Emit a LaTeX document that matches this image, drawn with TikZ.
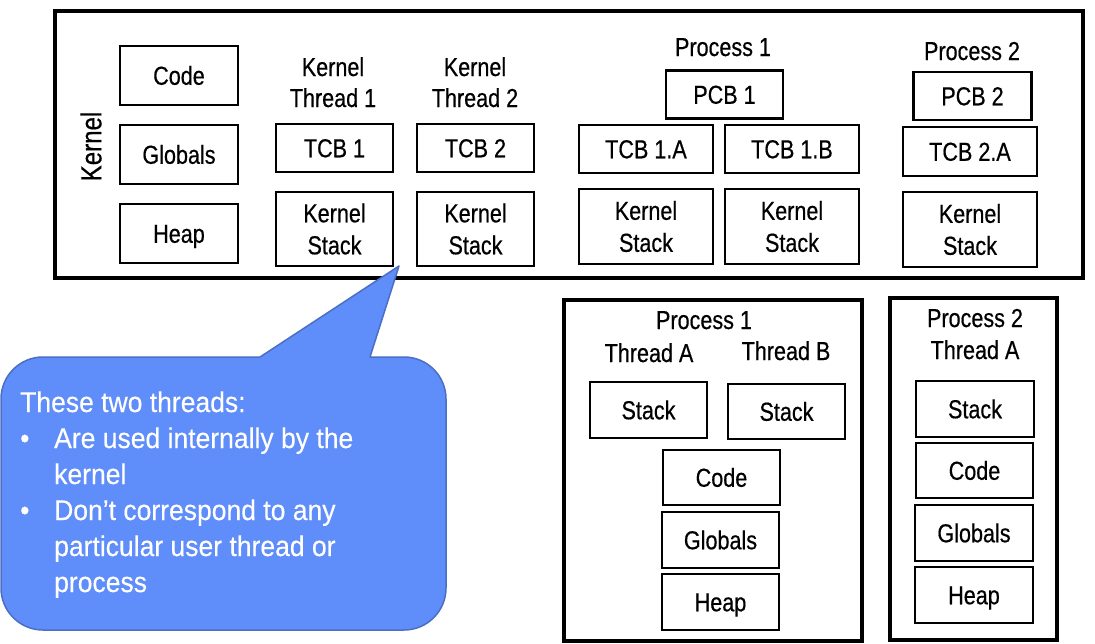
\documentclass[tikz,border=0pt]{standalone}
\usepackage{fontspec}
\newfontfamily\boxfont{Liberation Sans}[FakeStretch=0.83,FakeBold=0.5]
\newfontfamily\callfont{Liberation Sans}[FakeStretch=0.93,FakeBold=0.3]
\definecolor{callfill}{HTML}{5F8DF9}
\definecolor{callline}{HTML}{4A6FC4}
\begin{document}
\begin{tikzpicture}[x=1pt,y=-1pt,
  bx/.style={draw, line width=2.2pt, inner sep=0pt, align=center,
    font=\boxfont\fontsize{26}{32}\selectfont},
  one/.style={text height=18.5pt, text depth=0pt},
  hd/.style={inner sep=0pt, anchor=base, font=\boxfont\fontsize{26}{31}\selectfont},
  frame/.style={draw, line width=3.2pt, inner sep=0pt},
  ct/.style={inner sep=0pt, anchor=base west, text=white,
    font=\callfont\fontsize{28.5}{36}\selectfont},
  callout/.style={fill=callfill, draw=callline, line width=1.5pt, line join=round},
]
\useasboundingbox (0,0) rectangle (1095,643);

% ---------- Kernel ----------
\node[frame, minimum width=1028, minimum height=267] (kernel) at (569,144.5) {};
\node[inner sep=0pt, rotate=90, font=\boxfont\fontsize{29}{30}\selectfont] (klabel) at (91,146.5) {Kernel};

\node[bx, one, minimum width=118, minimum height=59] (kcode) at (179,75.5) {Code};
\node[bx, one, minimum width=118, minimum height=59] (kglob) at (179,154.5) {Globals};
\node[bx, one, minimum width=118, minimum height=59] (kheap) at (179,233.5) {Heap};

\node[hd] (kt1a) at (333,76) {Kernel};
\node[hd] (kt1b) at (333,107) {Thread 1};
\node[bx, one, minimum width=117, minimum height=48] (tcb1) at (334.5,148) {TCB 1};
\node[bx, minimum width=117, minimum height=74] (ks1) at (334.5,229) {Kernel\\Stack};

\node[hd] (kt2a) at (475,76) {Kernel};
\node[hd] (kt2b) at (475,107) {Thread 2};
\node[bx, one, minimum width=117, minimum height=48] (tcb2) at (475.5,148) {TCB 2};
\node[bx, minimum width=117, minimum height=74] (ks2) at (475.5,229) {Kernel\\Stack};

\node[hd] (kp1) at (723,56) {Process 1};
\node[bx, one, minimum width=117, minimum height=48] (pcb1) at (724.5,94.5) {PCB 1};
\node[bx, one, minimum width=134, minimum height=48] (tcb1a) at (646,149) {TCB 1.A};
\node[bx, one, minimum width=134, minimum height=48] (tcb1b) at (792,149) {TCB 1.B};
\node[bx, minimum width=134, minimum height=75] (ks1a) at (646,226.5) {Kernel\\Stack};
\node[bx, minimum width=134, minimum height=75] (ks1b) at (792,226.5) {Kernel\\Stack};

\node[hd] (kp2) at (972,60) {Process 2};
\node[bx, one, minimum width=118, minimum height=48] (pcb2) at (972.5,96) {PCB 2};
\node[bx, one, minimum width=134, minimum height=49] (tcb2a) at (970,151.5) {TCB 2.A};
\node[bx, minimum width=134, minimum height=75] (ks2a) at (970,229.5) {Kernel\\Stack};

% ---------- Process 1 (user) ----------
\node[frame, minimum width=298, minimum height=341] (proc1) at (713,470.5) {};
\node[hd] (up1) at (704,329) {Process 1};
\node[hd] (up1a) at (649,362) {Thread A};
\node[hd] (up1b) at (786,360) {Thread B};
\node[bx, one, minimum width=117, minimum height=56] (st1a) at (648.5,410) {Stack};
\node[bx, one, minimum width=117, minimum height=55] (st1b) at (786.5,411.5) {Stack};
\node[bx, one, minimum width=117, minimum height=55] (code1) at (721.5,477.5) {Code};
\node[bx, one, minimum width=117, minimum height=56] (glob1) at (720.5,540) {Globals};
\node[bx, one, minimum width=117, minimum height=56] (heap1) at (720.5,602) {Heap};

% ---------- Process 2 (user) ----------
\node[frame, minimum width=167, minimum height=342] (proc2) at (973.5,469) {};
\node[hd] (up2) at (975,327) {Process 2};
\node[hd] (up2a) at (975,359) {Thread A};
\node[bx, one, minimum width=118, minimum height=56] (st2a) at (975,409) {Stack};
\node[bx, one, minimum width=117, minimum height=55] (code2) at (974.5,470.5) {Code};
\node[bx, one, minimum width=118, minimum height=56] (glob2) at (974,533) {Globals};
\node[bx, one, minimum width=118, minimum height=56] (heap2) at (974,595) {Heap};

% ---------- Callout ----------
\draw[callout] (43,357) -- (260,357) -- (399,266) -- (370,357) -- (404,357)
  .. controls (427.2,357) and (446,375.8) .. (446,399) -- (446,588)
  .. controls (446,611.2) and (427.2,630) .. (404,630) -- (43,630)
  .. controls (19.8,630) and (1,611.2) .. (1,588) -- (1,399)
  .. controls (1,375.8) and (19.8,357) .. (43,357) -- cycle;

\node[ct] (c1) at (20,412) {These two threads:};
\node[ct] (bul1) at (20,448) {•};
\node[ct] (c2) at (54,448) {Are used internally by the};
\node[ct] (c3) at (54,484) {kernel};
\node[ct] (bul2) at (20,520) {•};
\node[ct] (c4) at (54,520) {Don’t correspond to any};
\node[ct] (c5) at (54,556) {particular user thread or};
\node[ct] (c6) at (54,592) {process};
\end{tikzpicture}
\end{document}
